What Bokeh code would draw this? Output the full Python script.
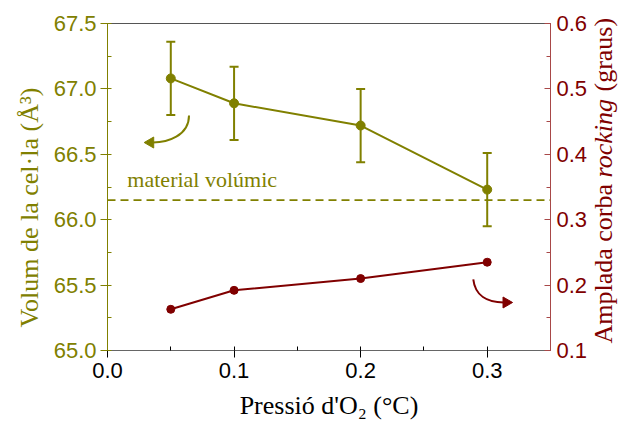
import math

from bokeh.plotting import figure
from bokeh.layouts import row
from bokeh.models import (Range1d, LinearAxis, SingleIntervalTicker, NumeralTickFormatter,
                          Span, Label, Whisker, TeeHead, ColumnDataSource)
from bokeh.embed import file_html
from bokeh.resources import INLINE

# Oxygen pressure series
pressure = [0.05, 0.1, 0.2, 0.3]
cell_volume = [67.08, 66.89, 66.72, 66.23]       # Å^3
cell_volume_err = [0.28, 0.28, 0.28, 0.28]
rocking_width = [0.163, 0.192, 0.210, 0.235]     # graus
bulk_volume = 66.15

OLIVE = "#808000"
DARKRED = "#800000"
SERIF = "Liberation Serif"
SANS = "Liberation Sans"

p = figure(width=590, height=428,
           x_range=Range1d(0, 0.35), y_range=Range1d(65.0, 67.5),
           min_border_left=107, min_border_right=37,
           min_border_top=23, min_border_bottom=78,
           output_backend="svg", toolbar_location=None)
p.extra_y_ranges = {"right": Range1d(0.1, 0.6000001)}
p.grid.visible = False
p.outline_line_color = "#555555"
p.outline_line_width = 1
p.background_fill_color = "white"
p.border_fill_color = "white"

# bottom axis
xa = p.xaxis[0]
xa.ticker = SingleIntervalTicker(interval=0.1, num_minor_ticks=2)
xa.formatter = NumeralTickFormatter(format="0.0")
xa.axis_line_color = "#666666"
xa.major_tick_line_color = "black"
xa.minor_tick_line_color = "black"
xa.major_tick_out = 7
xa.major_tick_in = 0
xa.minor_tick_out = 0
xa.minor_tick_in = 4
xa.major_label_text_font = SANS
xa.major_label_text_font_size = "22px"
xa.major_label_text_color = "black"
xa.major_label_standoff = 5
xa.axis_label = "Pressió d'O₂ (°C)"
xa.axis_label_text_font = SERIF
xa.axis_label_text_font_style = "normal"
xa.axis_label_text_font_size = "26px"
xa.axis_label_text_color = "black"
xa.axis_label_standoff = 10

# left axis
ya = p.yaxis[0]
ya.ticker = SingleIntervalTicker(interval=0.5, num_minor_ticks=2)
ya.formatter = NumeralTickFormatter(format="0.0")
ya.axis_line_color = OLIVE
ya.major_tick_line_color = OLIVE
ya.minor_tick_line_color = OLIVE
ya.major_tick_out = 7
ya.major_tick_in = 0
ya.minor_tick_out = 0
ya.minor_tick_in = 4
ya.major_label_text_font = SANS
ya.major_label_text_font_size = "22px"
ya.major_label_text_color = OLIVE
ya.major_label_standoff = 4

# right axis
ra = LinearAxis(y_range_name="right",
                ticker=SingleIntervalTicker(interval=0.1, num_minor_ticks=2),
                formatter=NumeralTickFormatter(format="0.0"))
ra.axis_line_color = "#a84848"
ra.major_tick_line_color = "#a84848"
ra.minor_tick_line_color = "#a84848"
ra.major_tick_out = 0
ra.major_tick_in = 6
ra.minor_tick_out = 0
ra.minor_tick_in = 4
ra.major_label_text_font = SANS
ra.major_label_text_font_size = "22px"
ra.major_label_text_color = DARKRED
ra.major_label_standoff = 6
p.add_layout(ra, "right")

# bulk reference line
p.add_layout(Span(location=bulk_volume, dimension="width", line_color=OLIVE,
                  line_width=1.6, line_dash="8 5"))
p.add_layout(Label(x=0.0157, y=bulk_volume + 0.06, text="material volúmic",
                   text_font=SERIF, text_font_size="22px", text_color=OLIVE,
                   text_baseline="bottom"))

# cell volume with error bars
src = ColumnDataSource(dict(
    x=pressure, y=cell_volume,
    lo=[v - e for v, e in zip(cell_volume, cell_volume_err)],
    hi=[v + e for v, e in zip(cell_volume, cell_volume_err)],
))
p.add_layout(Whisker(source=src, base="x", lower="lo", upper="hi",
                     line_color=OLIVE, line_width=2,
                     upper_head=TeeHead(size=9, line_color=OLIVE, line_width=2),
                     lower_head=TeeHead(size=9, line_color=OLIVE, line_width=2)))
p.line("x", "y", source=src, line_color=OLIVE, line_width=2)
p.scatter("x", "y", source=src, size=9, color=OLIVE)

# rocking curve width on the right scale
p.line(pressure, rocking_width, y_range_name="right", line_color=DARKRED, line_width=2)
p.scatter(pressure, rocking_width, y_range_name="right", size=8, color=DARKRED)

# curved arrows pointing to each series' axis
p.bezier(x0=[0.0644], y0=[66.797], x1=[0.036], y1=[66.59],
         cx0=[0.0644], cy0=[66.64], cx1=[0.0470], cy1=[66.59],
         line_color=OLIVE, line_width=2)
p.scatter([0.034], [66.59], marker="triangle", size=11, angle=math.pi / 2,
          color=OLIVE)
p.bezier(x0=[0.289], y0=[0.2086], x1=[0.313], y1=[0.1734],
         cx0=[0.2904], cy0=[0.184], cx1=[0.300], cy1=[0.1734],
         line_color=DARKRED, line_width=2, y_range_name="right")
p.scatter([0.315], [0.1734], marker="triangle", size=11, angle=-math.pi / 2,
          color=DARKRED, y_range_name="right")

# left axis title (placed in the side panel so it is not clipped by the frame)
p.add_layout(Label(x=-0.062, y=66.093, text="Volum de la cel·la (Å³)",
                   text_font=SERIF, text_font_size="26px", text_color=OLIVE,
                   angle=math.pi / 2, text_align="center", text_baseline="middle"),
             "left")

# right axis title lives in a narrow axis-less strip beside the plot, so the
# italic word can be set on its own; the strip's frame fills the whole strip
# and its vertical scale continues the right axis (0.1 at 350 px, 0.6 at 23 px)
strip = figure(width=29, height=428,
               x_range=Range1d(0, 29), y_range=Range1d(-0.01927, 0.63517),
               x_axis_location=None, y_axis_location=None,
               min_border=0, min_border_left=0, min_border_right=0,
               min_border_top=0, min_border_bottom=0,
               output_backend="svg", toolbar_location=None)
strip.frame_align = False
strip.grid.visible = False
strip.outline_line_color = None
strip.background_fill_color = "white"
strip.border_fill_color = "white"

bx = 13
strip.add_layout(Label(x=bx, y=0.1107, text="Amplada corba",
                       text_font=SERIF, text_font_size="26px", text_color=DARKRED,
                       angle=math.pi / 2, text_align="left", text_baseline="middle"))
strip.add_layout(Label(x=bx, y=0.3647, text="rocking",
                       text_font=SERIF, text_font_size="26px", text_font_style="italic",
                       text_color=DARKRED,
                       angle=math.pi / 2, text_align="left", text_baseline="middle"))
strip.add_layout(Label(x=bx, y=0.4960, text="(graus)",
                       text_font=SERIF, text_font_size="26px", text_color=DARKRED,
                       angle=math.pi / 2, text_align="left", text_baseline="middle"))

layout = row(p, strip, spacing=0)
open("out.html", "w").write(file_html(layout, INLINE))
